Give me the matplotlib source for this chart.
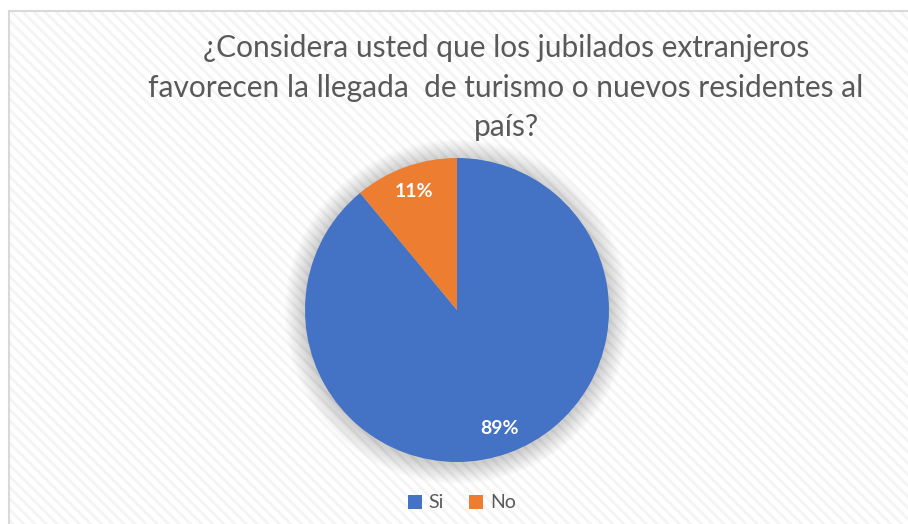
import matplotlib
matplotlib.use("Agg")
import matplotlib.pyplot as plt
from matplotlib.patches import Rectangle, Circle

# data
labels = ["Si", "No"]
values = [89, 11]
colors = ["#4472C4", "#ED7D31"]
title = ("¿Considera usted que los jubilados extranjeros\n"
         "favorecen la llegada  de turismo o nuevos residentes al\n"
         "país?")

plt.rcParams["font.family"] = ["Lato", "DejaVu Sans"]
plt.rcParams["hatch.linewidth"] = 2.0
plt.rcParams["hatch.color"] = "#f4f4f4"

W, H = 908, 524
fig = plt.figure(figsize=(W / 100, H / 100), dpi=100)
fig.patch.set_facecolor("white")

# hatched chart area with light frame (only left/top edges visible)
bg = Rectangle((9 / W, -0.1), 1.2, 1.1 - 11 / H, transform=fig.transFigure,
               facecolor="white", edgecolor="#f4f4f4", hatch="\\\\\\",
               linewidth=0, zorder=0)
fig.patches.append(bg)
frame = Rectangle((9 / W, -0.1), 1.2, 1.1 - 11 / H, transform=fig.transFigure,
                  fill=False, edgecolor="#d9d9d9", linewidth=1.5, zorder=1)
fig.patches.append(frame)

# title
fig.text(506 / W, 1 - 34 / H, title, ha="center", va="top", fontsize=21.5,
         color="#595959", linespacing=1.5)

# pie axes: center (457, 310), radius 152 px
cx, cy, r = 457, 310, 152
ax = fig.add_axes([(cx - r) / W, (H - cy - r) / H, 2 * r / W, 2 * r / H])
ax.set_zorder(2)

# soft shadow around pie
for i in range(12):
    ax.add_patch(Circle((0, -0.01), 1.0 + 0.011 * (i + 1), color="black",
                        alpha=0.016, linewidth=0, clip_on=False, zorder=0))

wedges, texts, autotexts = ax.pie(
    values,
    colors=colors,
    startangle=90,
    counterclock=False,
    autopct="%1.0f%%",
    pctdistance=0.83,
    wedgeprops={"linewidth": 0},
    textprops={"color": "white", "fontsize": 14, "fontweight": "bold"},
)
for w in wedges:
    w.set_zorder(1)
ax.set_xlim(-1, 1)
ax.set_ylim(-1, 1)
ax.set_aspect("equal")
ax.axis("off")

leg = fig.legend(wedges, labels, loc="center", bbox_to_anchor=(462 / W, 1 - 503 / H),
                 ncol=2, frameon=False, fontsize=14, handlelength=0.7,
                 handleheight=0.7, handletextpad=0.35, columnspacing=1.3,
                 labelcolor="#595959")

fig.savefig("out.png", dpi=100)
